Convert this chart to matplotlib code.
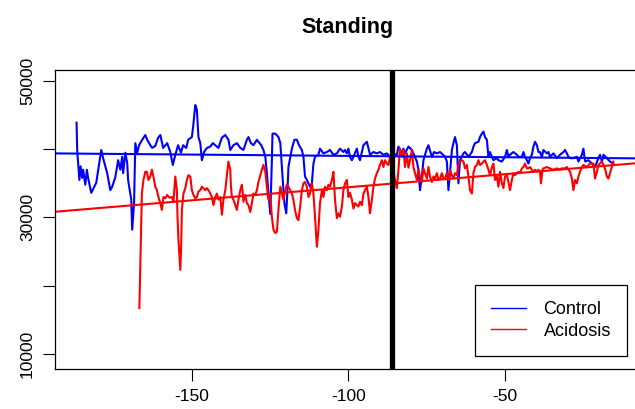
import matplotlib
matplotlib.use("Agg")
import matplotlib.pyplot as plt
import numpy as np

plt.rcParams['font.family'] = ['Liberation Sans', 'DejaVu Sans']

title = "Standing"
legend_labels = ["Control", "Acidosis"]
xticks = [-150, -100, -50]
yticks = [10000, 20000, 30000, 40000, 50000]
ytick_labels = ["10000", "", "30000", "", "50000"]
vline_x = -86

control_x = [-187.0, -186.8, -186.5, -186.1, -185.7, -185.2, -184.9, -184.2, -183.7, -183.3,
             -182.3, -180.7, -179.1, -178.5, -177.2, -176.2, -175.6, -174.6, -173.7, -173.0,
             -172.4, -172.1, -171.4, -170.8, -170.5, -169.5, -169.2, -168.6, -168.2, -167.6,
             -167.0, -166.0, -165.0, -164.4, -163.4, -162.8, -161.8, -160.9, -160.2, -159.3,
             -158.0, -157.0, -156.2, -155.4, -154.5, -153.6, -152.9, -151.9, -151.3, -150.1,
             -149.7, -149.0, -148.5, -148.0, -147.4, -146.9, -146.2, -145.3, -144.2, -143.4,
             -142.6, -141.6, -140.5, -139.4, -138.4, -137.8, -136.8, -135.7, -134.6, -133.6,
             -132.5, -132.0, -131.2, -130.4, -129.3, -128.8, -127.9, -127.2, -126.6, -126.1,
             -125.6, -125.0, -124.5, -124.3, -123.4, -122.4, -121.8, -121.3, -120.8, -120.5,
             -119.9, -119.5, -119.2, -118.6, -118.1, -117.3, -116.5, -115.8, -114.9, -114.4,
             -113.9, -113.3, -112.3, -111.7, -111.2, -110.7, -109.6, -109.1, -108.0, -106.9,
             -105.9, -104.8, -103.7, -102.7, -101.6, -101.1, -100.5, -100.0, -99.5, -98.9,
             -98.4, -97.3, -96.8, -96.3, -95.2, -94.1, -93.1, -92.0, -90.9, -89.9,
             -88.8, -87.7, -86.7, -85.7, -84.5, -84.0, -82.9, -82.4, -81.9, -80.8,
             -79.7, -79.2, -78.1, -77.6, -77.1, -76.5, -76.0, -74.9, -74.4, -73.3,
             -72.6, -71.7, -70.7, -69.7, -69.1, -68.5, -68.0, -67.5, -66.9, -66.4,
             -65.9, -65.3, -64.8, -64.3, -63.2, -62.7, -61.6, -60.5, -60.0, -59.5,
             -58.4, -57.9, -57.3, -56.8, -56.3, -55.7, -55.2, -54.7, -54.1, -53.6,
             -52.5, -52.0, -50.9, -49.9, -49.3, -48.8, -48.3, -47.2, -46.1, -45.6,
             -44.5, -44.0, -43.5, -42.9, -42.4, -41.9, -41.3, -40.8, -40.3, -39.7,
             -39.2, -38.7, -38.1, -37.6, -36.5, -36.0, -35.5, -34.4, -33.3, -32.3,
             -31.2, -30.7, -30.1, -29.6, -29.1, -28.0, -26.9, -26.4, -25.3, -24.8,
             -24.5, -24.2, -23.2, -22.1, -21.1, -20.0, -19.5, -18.9, -18.4, -17.3,
             -16.3, -15.2]
control_y = [43900, 39900, 38100, 35500, 37500, 35800, 37000, 34800, 37000, 35800,
             33600, 35100, 39900, 38700, 36500, 34000, 34500, 35900, 38400, 37000,
             38900, 36500, 39500, 38000, 35500, 32600, 28200, 32100, 40900, 39500,
             40600, 41400, 42100, 41400, 40600, 40200, 40500, 41700, 42100, 40200,
             40900, 39600, 37700, 39200, 40600, 39500, 40600, 40200, 41400, 41800,
             43300, 46500, 45800, 41800, 40900, 38400, 39600, 40200, 40400, 40900,
             40600, 40200, 41700, 42100, 41400, 39900, 40600, 40900, 40200, 39900,
             41400, 41800, 40900, 40600, 41400, 41100, 40600, 39900, 38900, 36500,
             33600, 30500, 38400, 42300, 42300, 41800, 40900, 37400, 34000, 32100,
             30600, 34000, 37400, 38900, 40100, 41400, 41400, 40600, 39900, 38900,
             36000, 35500, 34500, 35000, 37900, 38900, 39200, 40100, 39400, 39600,
             39900, 39200, 39400, 40100, 39600, 39900, 39400, 40100, 38900, 38400,
             38900, 40100, 38900, 38400, 40600, 41100, 39200, 39600, 39400, 39600,
             39200, 39400, 38900, 39300, 39200, 40400, 39400, 40100, 39400, 40400,
             39900, 39400, 38200, 37000, 34000, 36000, 38400, 40100, 40600, 38900,
             39600, 39400, 39600, 39200, 38900, 38200, 34000, 36500, 39900, 40900,
             41800, 40600, 35000, 38400, 39400, 39600, 38900, 39600, 40400, 40900,
             41100, 41800, 42300, 42600, 41800, 41400, 38900, 39600, 38900, 38400,
             38700, 38400, 38200, 38900, 39900, 38900, 39200, 39600, 39200, 38900,
             38900, 39600, 38900, 38400, 37900, 38700, 39200, 40400, 41100, 40600,
             39600, 39600, 38900, 39900, 39400, 39600, 38900, 39400, 38700, 39200,
             39600, 39900, 39400, 38900, 38700, 38700, 38900, 38200, 39200, 40100,
             38900, 38200, 38400, 37900, 37400, 38700, 39200, 38200, 39200, 38700,
             38200, 37900]

acidosis_x = [-166.9, -166.5, -166.1, -165.6, -165.0, -164.5, -164.0, -163.4, -162.9, -162.4,
              -161.8, -161.3, -160.8, -160.2, -159.7, -159.2, -158.6, -158.0, -157.3, -156.5,
              -156.0, -155.4, -154.9, -154.7, -154.4, -153.8, -153.5, -153.3, -152.8, -152.2,
              -151.7, -151.2, -150.6, -150.1, -149.6, -149.0, -148.5, -148.0, -147.4, -146.9,
              -146.4, -145.8, -145.3, -144.8, -144.2, -143.7, -143.2, -142.6, -142.1, -141.6,
              -141.0, -140.5, -140.0, -139.4, -138.9, -138.4, -137.8, -137.6, -137.3, -136.8,
              -136.2, -135.7, -135.2, -134.6, -134.1, -133.8, -133.6, -133.0, -132.5, -132.0,
              -131.4, -130.9, -130.4, -129.8, -129.3, -128.8, -128.2, -127.7, -127.2, -126.6,
              -126.1, -125.6, -125.0, -124.5, -124.0, -123.4, -122.9, -122.4, -121.8, -121.3,
              -120.8, -120.2, -119.7, -119.2, -118.6, -118.1, -117.6, -117.1, -116.5, -116.0,
              -115.4, -114.9, -114.4, -113.9, -113.3, -112.8, -112.3, -111.7, -111.2, -110.7,
              -110.1, -109.6, -109.1, -108.5, -108.0, -107.5, -106.9, -106.4, -105.9, -105.3,
              -104.8, -104.3, -103.7, -103.2, -102.7, -102.1, -101.6, -101.1, -100.5, -100.0,
              -99.5, -98.9, -98.4, -97.9, -97.3, -96.8, -96.3, -95.7, -95.2, -94.7,
              -94.1, -93.6, -93.1, -92.5, -92.0, -91.5, -90.9, -90.4, -89.9, -89.3,
              -88.8, -88.3, -87.7, -87.2, -86.7, -85.7, -85.1, -84.5, -84.0, -83.5,
              -82.9, -82.4, -81.9, -81.3, -80.8, -80.3, -79.7, -79.2, -78.7, -78.1,
              -77.6, -77.1, -76.5, -76.0, -75.5, -74.9, -74.4, -73.9, -73.3, -72.8,
              -72.3, -71.7, -71.2, -70.7, -70.1, -69.6, -69.1, -68.5, -68.0, -67.5,
              -66.9, -66.4, -65.9, -65.3, -64.8, -64.3, -63.7, -63.2, -62.7, -62.1,
              -61.6, -61.1, -60.5, -60.0, -59.5, -58.9, -58.4, -57.9, -57.3, -56.8,
              -56.3, -55.7, -55.2, -54.7, -54.1, -53.6, -53.1, -52.5, -52.0, -51.5,
              -50.9, -50.4, -49.9, -49.3, -48.8, -48.3, -47.7, -47.2, -46.7, -46.1,
              -45.6, -45.1, -44.5, -44.0, -43.5, -42.9, -42.4, -41.9, -41.3, -40.8,
              -40.3, -39.7, -39.2, -38.7, -38.4, -37.9, -37.6, -36.5, -35.5, -34.4,
              -33.3, -32.3, -31.8, -30.7, -30.1, -29.1, -28.5, -28.0, -27.5, -26.9,
              -26.4, -25.9, -25.3, -24.8, -23.7, -22.7, -21.6, -21.1, -20.5, -20.0,
              -18.9, -18.4, -17.8, -17.3, -16.8, -16.3, -15.7, -15.2]
acidosis_y = [16700, 25200, 33500, 35500, 36700, 36700, 35500, 36000, 37000, 36000,
              34500, 34000, 33000, 32100, 31100, 33000, 32800, 33300, 32900, 33000,
              32300, 36000, 34000, 30100, 26700, 22300, 26200, 31100, 33500, 34300,
              35500, 36200, 36000, 34000, 33300, 32800, 33000, 33800, 34000, 34500,
              34300, 34000, 34300, 34000, 33500, 33000, 31800, 33000, 33500, 32600,
              33000, 30400, 32600, 34000, 36200, 38200, 37000, 34500, 33000, 32600,
              31800, 31100, 32600, 34000, 34800, 33500, 32300, 33300, 32100, 31800,
              30800, 32100, 33500, 33300, 34000, 35200, 36200, 37000, 37700, 36700,
              34500, 32600, 33000, 30100, 28200, 27700, 27900, 31100, 34500, 33500,
              32600, 34000, 34800, 34500, 34000, 33500, 32600, 31100, 29900, 29600,
              31800, 34000, 35000, 35200, 34500, 33000, 33500, 35000, 33500, 30100,
              25700, 28200, 32100, 34000, 33000, 34500, 34000, 34800, 34500, 35500,
              36700, 32600, 29900, 30600, 30100, 31600, 34000, 35000, 35500, 33000,
              33600, 32600, 31300, 32100, 31800, 31600, 32300, 31800, 33500, 34000,
              34500, 33000, 30600, 32600, 34500, 35700, 36500, 37000, 37700, 38400,
              37400, 38400, 37900, 37700, 38900, 37000, 35500, 34300, 37000, 40100,
              38900, 39900, 37400, 39400, 37300, 38400, 39900, 37400, 36500, 35500,
              37000, 36000, 35200, 37200, 36500, 35700, 37400, 36000, 35200, 36000,
              35700, 36500, 35500, 35700, 36500, 35700, 35700, 36500, 35500, 37000,
              36200, 35700, 36500, 36200, 37700, 38200, 38400, 38200, 37200, 37700,
              36000, 34000, 33500, 36500, 37400, 37700, 38400, 37700, 37900, 38200,
              38400, 37700, 37000, 36200, 37400, 37900, 35500, 36000, 34500, 36700,
              35000, 34300, 36000, 36200, 35200, 34000, 35500, 36500, 36200, 36500,
              36700, 36500, 37200, 37400, 37900, 37200, 37200, 37400, 37000, 36700,
              37000, 36700, 37000, 36700, 35000, 37000, 37200, 37400, 37200, 37000,
              37200, 37000, 37200, 37200, 37400, 36700, 35700, 34000, 35500, 35000,
              36000, 36700, 37400, 37700, 37400, 37900, 37900, 35700, 36700, 37700,
              38200, 37700, 37000, 36000, 35700, 36500, 37400, 38200]

control_fit = (38640, -3.9)     # intercept, slope
acidosis_fit = (38260, 38.3)

fig = plt.figure(figsize=(6.35, 4.09), dpi=100)
ax = fig.add_axes([55/635, 40/409, 585/635, 299/409])

ax.plot(control_x, control_y, color='blue', lw=1.5, label=legend_labels[0])
ax.plot(acidosis_x, acidosis_y, color='red', lw=1.5, label=legend_labels[1])
ax.axline((0, control_fit[0]), slope=control_fit[1], color='blue', lw=1.5)
ax.axline((0, acidosis_fit[0]), slope=acidosis_fit[1], color='red', lw=1.5)
ax.axvline(vline_x, color='black', lw=3.8)

ax.set_xlim(-193.9, -6.7)
ax.set_ylim(7750, 51640)
ax.set_xticks(xticks)
ax.set_xticklabels([str(t) for t in xticks])
ax.set_yticks(yticks)
ax.set_yticklabels(ytick_labels, rotation=90, va='center')
ax.tick_params(axis='both', labelsize=12.5, length=8.5, width=0.8, direction='out')
ax.tick_params(axis='x', pad=6)
ax.tick_params(axis='y', pad=6)
for s in ax.spines.values():
    s.set_linewidth(0.9)
    s.set_color('black')

ax.set_title(title, fontsize=15.5, fontweight='bold', pad=27)

leg = ax.legend(loc='lower right', bbox_to_anchor=(0.978, 0.0435), fontsize=13,
                frameon=True, fancybox=False, edgecolor='black', framealpha=1,
                handlelength=1.95, handletextpad=0.95, borderpad=0.9, labelspacing=0.25,
                borderaxespad=0)
leg.get_frame().set_linewidth(0.9)
for h in leg.get_lines():
    h.set_linewidth(1.0)

fig.savefig('out.png', dpi=100)
